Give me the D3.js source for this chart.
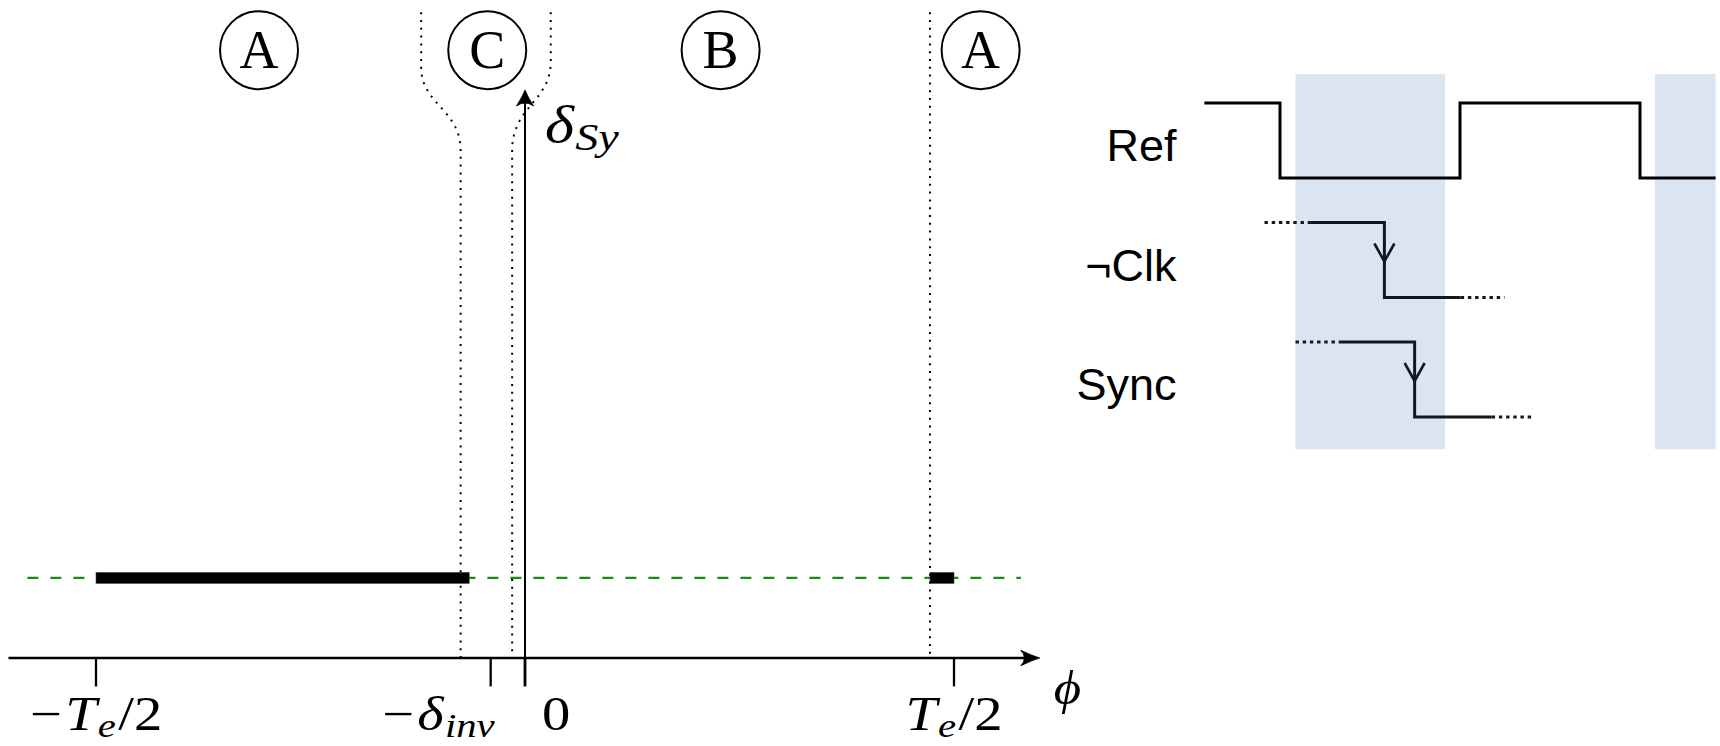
<!DOCTYPE html>
<html>
<head>
<meta charset="utf-8">
<script src="https://cdn.jsdelivr.net/npm/d3@7"></script>
<style>
body { margin: 0; background: #fff; }
svg { display: block; }
</style>
</head>
<body>
<div id="chart"></div>
<script>
// ---- left panel: phase axis, values in units of Te ----
const phiTicks = [-0.5, -0.04, 0, 0.5];
// label pieces: [text, kind]  kind: "" upright, "i" italic, "s" italic subscript
const phiTickLabels = [
  [["−", ""], ["T", "i"], ["e", "s"], ["/2", ""]],
  [["−", ""], ["δ", "i"], ["inv", "s"]],
  [["0", ""]],
  [["T", "i"], ["e", "s"], ["/2", ""]]
];
const phiExtent = [-0.602, 0.60];
const regionLetters = ["A", "C", "B", "A"];
const regionCenters = [-0.31, -0.044, 0.228, 0.531];
const cLeftBound = [-0.121, -0.075];   // [top, bottom]
const cRightBound = [0.030, -0.015];   // [top, bottom]
const aBound = 0.472;
const lockLevel = 0.141;
const lockSpan = [-0.58, 0.578];
const lockBars = [[-0.5, -0.065], [0.472, 0.5]];

// ---- right panel: timing diagram, time in half periods of Ref ----
const signalNames = ["Ref", "¬Clk", "Sync"];
const refTimes = [-0.42, 0, 1, 2, 2.42];
const refLevels = [1, 0, 1, 0, 0];
const clkTimes = [0.167, 0.58, 1.004];
const clkLevels = [1, 0, 0];
const clkDotted = [[-0.086, 0.167, 1], [1.004, 1.247, 0]];
const syncTimes = [0.328, 0.748, 1.176];
const syncLevels = [1, 0, 0];
const syncDotted = [[0.086, 0.328, 1], [1.176, 1.408, 0]];
const shadeWindows = [[0.086, 0.917], [2.083, 2.42]];

const W = 1720, H = 746;
const svg = d3.select("#chart").append("svg").attr("width", W).attr("height", H);

const serif = "'Liberation Serif', 'Times New Roman', serif";
const sans = "'Liberation Sans', Arial, sans-serif";

const x = d3.scaleLinear().domain([-0.5, 0.5]).range([96, 954]);
const y = d3.scaleLinear().domain([0, 1]).range([658, 90]);

// filled latex-ish arrow head pointing along +x, then rotated
function arrowHead(g, tx, ty, angle, len, half) {
  const p = d3.path();
  p.moveTo(0, 0);
  p.quadraticCurveTo(-len * 0.4, -half * 0.3, -len, -half);
  p.quadraticCurveTo(-len * 0.62, 0, -len, half);
  p.quadraticCurveTo(-len * 0.4, half * 0.3, 0, 0);
  p.closePath();
  g.append("path")
    .attr("d", p.toString())
    .attr("transform", `translate(${tx},${ty}) rotate(${angle})`)
    .attr("fill", "#000").attr("stroke", "#000").attr("stroke-width", 0.8);
}

const left = svg.append("g");

// green dashed lock line
left.append("line")
  .attr("x1", x(lockSpan[0])).attr("x2", x(lockSpan[1]))
  .attr("y1", y(lockLevel)).attr("y2", y(lockLevel))
  .attr("stroke", "#1a8a1a").attr("stroke-width", 2.4)
  .attr("stroke-dasharray", "11 12");

// thick bars
left.selectAll(".bar").data(lockBars).join("rect")
  .attr("class", "bar")
  .attr("x", d => x(d[0])).attr("width", d => x(d[1]) - x(d[0]))
  .attr("y", y(lockLevel) - 5.5).attr("height", 11)
  .attr("fill", "#000").attr("stroke", "#444").attr("stroke-width", 0.6);

// dotted region boundaries
const dotStyle = sel => sel.attr("fill", "none").attr("stroke", "#000")
  .attr("stroke-width", 2).attr("stroke-dasharray", "2 5.8");

function cBoundary(b, yStraight) {
  const p = d3.path();
  const yTop = y(1.137), yEnd = y(0.893);
  const y0 = y(yStraight);
  p.moveTo(x(b[0]), yTop);
  p.lineTo(x(b[0]), y0);
  p.bezierCurveTo(x(b[0]), y0 + (yEnd - y0) * 0.45, x(b[1]), y0 + (yEnd - y0) * 0.5, x(b[1]), yEnd);
  p.lineTo(x(b[1]), y(0));
  return p.toString();
}
left.append("path").attr("d", cBoundary(cLeftBound, 1.04)).call(dotStyle);
left.append("path").attr("d", cBoundary(cRightBound, 1.05)).call(dotStyle);
left.append("line")
  .attr("x1", x(aBound)).attr("x2", x(aBound))
  .attr("y1", y(1.137)).attr("y2", y(0))
  .call(dotStyle);

// phi axis
left.append("line")
  .attr("x1", x(phiExtent[0])).attr("x2", x(phiExtent[1]) - 6)
  .attr("y1", y(0)).attr("y2", y(0))
  .attr("stroke", "#000").attr("stroke-width", 2.3);
arrowHead(left, x(phiExtent[1]), y(0), 0, 19, 7.7);

// vertical delta_Sy axis
left.append("line")
  .attr("x1", x(0)).attr("x2", x(0))
  .attr("y1", y(0)).attr("y2", y(1) + 6)
  .attr("stroke", "#000").attr("stroke-width", 2);
arrowHead(left, x(0), y(1), -90, 16, 8.5);

// ticks
left.selectAll(".tick").data(phiTicks).join("line")
  .attr("class", "tick")
  .attr("x1", d => x(d)).attr("x2", d => x(d))
  .attr("y1", y(0)).attr("y2", y(-0.05))
  .attr("stroke", "#000").attr("stroke-width", (d) => d === 0 ? 2.8 : 2.3);

// math-like label, widened a little to get closer to TeX proportions
function mathText(g, parts, tx, ty, anchor, size, subScale, stretch) {
  const holder = g.append("g")
    .attr("transform", `translate(${tx},${ty}) scale(${stretch},1)`);
  const t = holder.append("text")
    .attr("text-anchor", anchor)
    .attr("font-family", serif).attr("font-size", size);
  let shifted = false;
  parts.forEach((p, i) => {
    const s = t.append("tspan").text(p[0]);
    if (p[1] === "i" || p[1] === "s") s.attr("font-style", "italic");
    let dy = 0;
    if (p[1] === "s" && !shifted) { dy = size * 0.15; shifted = true; }
    else if (p[1] !== "s" && shifted) { dy = -size * 0.15; shifted = false; }
    if (dy) s.attr("dy", dy);
    if (p[1] === "s") s.attr("font-size", size * subScale);
    if (i > 0) s.attr("dx", p[0] === "/2" ? 2 : (parts[i - 1][0] === "−" ? 3 : 1));
  });
  return t;
}

const tickAnchor = ["middle", "end", "start", "middle"];
const tickShift = [0, 4, 17, 0];
phiTicks.forEach((v, i) => {
  mathText(left, phiTickLabels[i], x(v) + tickShift[i], y(0) + 72, tickAnchor[i], 48, 0.72, 1.18);
});

// axis labels
mathText(left, [["ϕ", "i"]], x(phiExtent[1]) + 14, y(0) + 46, "start", 48, 0.7, 1.1);
mathText(left, [["δ", "i"], ["Sy", "s"]], x(0) + 20, y(1) + 52, "start", 52, 0.74, 1.2);

// circled region letters
const reg = left.selectAll(".region").data(regionLetters).join("g")
  .attr("class", "region")
  .attr("transform", (d, i) => `translate(${x(regionCenters[i])},${y(1.07)})`);
reg.append("circle").attr("r", 39).attr("fill", "#fff")
  .attr("stroke", "#000").attr("stroke-width", 2);
reg.append("text").text(d => d)
  .attr("text-anchor", "middle").attr("y", 18)
  .attr("font-family", serif).attr("font-size", 54);

// ---- timing diagram ----
const xt = d3.scaleLinear().domain([0, 1]).range([1280, 1460]);
const lane = d3.scaleLinear().domain([0, 1]).range([178, 297.5]);
const amp = 0.628;
const right = svg.append("g");

right.selectAll(".shade").data(shadeWindows).join("rect")
  .attr("class", "shade")
  .attr("x", d => xt(d[0])).attr("width", d => xt(d[1]) - xt(d[0]))
  .attr("y", lane(-0.87)).attr("height", lane(2.27) - lane(-0.87))
  .attr("fill", "#dbe5f1");

function stepLine(li) {
  return d3.line()
    .x(d => xt(d[0]))
    .y(d => lane(li - d[1] * amp))
    .curve(d3.curveStepAfter);
}

const sigs = [
  { times: refTimes, levels: refLevels, dotted: [], color: "#000" },
  { times: clkTimes, levels: clkLevels, dotted: clkDotted, color: "#101822" },
  { times: syncTimes, levels: syncLevels, dotted: syncDotted, color: "#101822" }
];

sigs.forEach((s, li) => {
  const pts = s.times.map((t, k) => [t, s.levels[k]]);
  right.append("path").attr("d", stepLine(li)(pts))
    .attr("fill", "none").attr("stroke", s.color)
    .attr("stroke-width", 3).attr("stroke-linejoin", "miter");
  s.dotted.forEach(d => {
    right.append("line")
      .attr("x1", xt(d[0])).attr("x2", xt(d[1]))
      .attr("y1", lane(li - d[2] * amp)).attr("y2", lane(li - d[2] * amp))
      .attr("stroke", s.color).attr("stroke-width", 3)
      .attr("stroke-dasharray", "3.4 3.8");
  });
  if (li > 0) {
    // falling edge marker
    const ex = xt(s.times[1]);
    const tipY = lane(li) - 36;
    right.append("path")
      .attr("d", `M${ex - 10},${tipY - 18} L${ex},${tipY} L${ex + 10},${tipY - 18}`)
      .attr("fill", "none").attr("stroke", s.color).attr("stroke-width", 2.6);
  }
});

right.selectAll(".sig-label").data(signalNames).join("text")
  .attr("class", "sig-label")
  .attr("x", xt(-0.575))
  .attr("y", (d, i) => lane(i) - 17)
  .attr("text-anchor", "end")
  .attr("font-family", sans).attr("font-size", 45)
  .text(d => d);
</script>
</body>
</html>
